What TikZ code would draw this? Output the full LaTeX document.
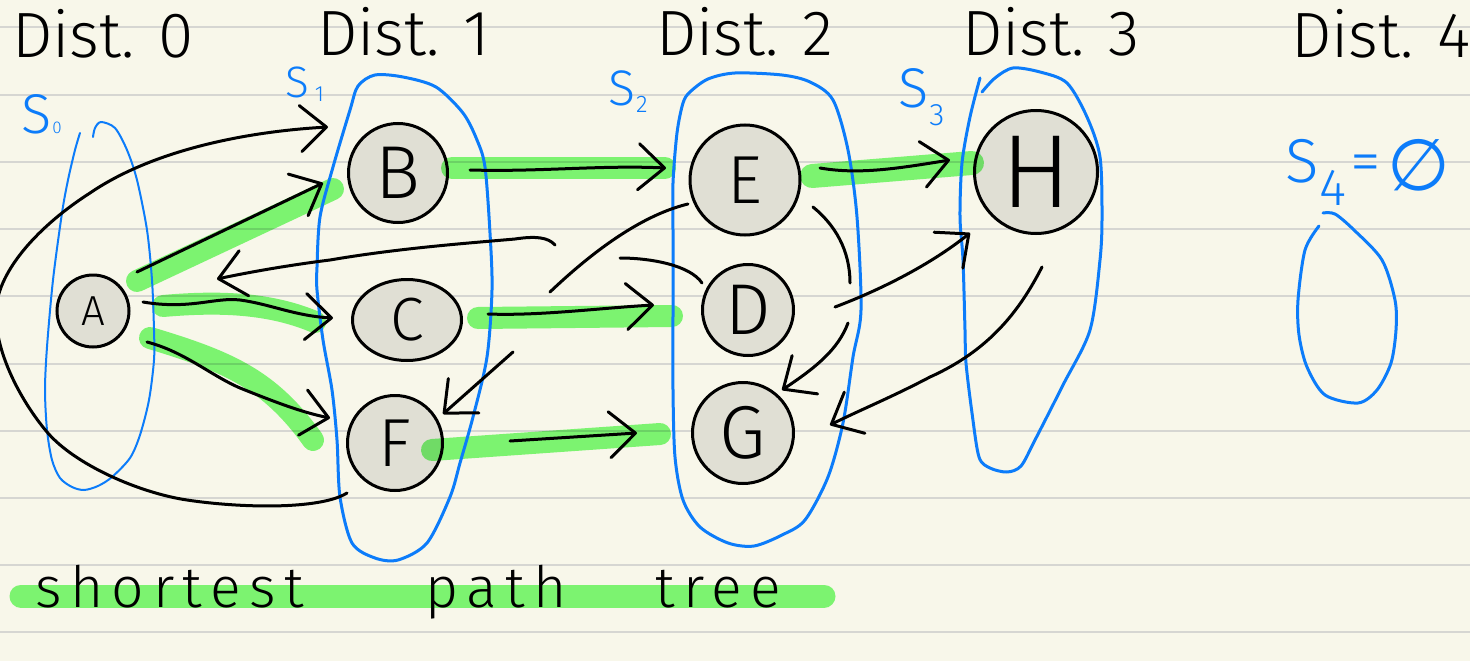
\documentclass[tikz,border=0pt]{standalone}
\usepackage{fontspec}
\setmainfont{Fira Sans}[UprightFont=* Light]
\newfontfamily\spacedfont{Fira Sans}[UprightFont=* Light, LetterSpace=15]
\newfontfamily\symbfont{DejaVu Sans}
\usetikzlibrary{arrows.meta,calc,shapes.geometric}
\definecolor{paper}{RGB}{248,247,234}
\definecolor{ruleclr}{RGB}{214,214,210}
\definecolor{nodefill}{RGB}{224,223,212}
\definecolor{bluepen}{RGB}{12,124,250}
\definecolor{hl}{RGB}{128,251,123}
\tikzset{
  vtx/.style={circle, draw=black, fill=nodefill, line width=3pt, inner sep=0pt},
  edge/.style={draw=black, line width=3pt, line cap=round, line join=round},
  arr/.style={edge, -{Straight Barb[length=26pt,width=46pt,round]}},
  hilite/.style={draw=hl, line width=22pt, line cap=round, line join=round},
  setloop/.style={draw=bluepen, line width=3pt, line cap=round, line join=round},
  ruleline/.style={draw=ruleclr, line width=2pt},
  lab/.style={anchor=base west, inner sep=0pt, font=\fontsize{64}{64}\selectfont},
  slab/.style={text=bluepen, inner sep=0pt, anchor=base west},
  wordlab/.style={anchor=base west, inner sep=0pt, font=\spacedfont\fontsize{57}{57}\selectfont},
}
\begin{document}
\begin{tikzpicture}[x=1pt,y=-1pt]
\useasboundingbox (0,0) rectangle (1470,661);
\fill[paper] (0,0) rectangle (1470,661);
\foreach \yy in {27,94.5,162,229,296,363.5,430.5,498,565,632}
  \draw[ruleline] (0,\yy) -- (1470,\yy);

% vertices
\node[vtx, minimum size=72pt, font=\fontsize{42}{42}\selectfont] (nA) at (93,311) {A};
\node[vtx, minimum size=99pt, font=\fontsize{75}{75}\selectfont] (nB) at (398,173) {B};
\node[vtx, ellipse, minimum width=109pt, minimum height=81pt, font=\fontsize{61}{61}\selectfont] (nC) at (407,320) {C};
\node[vtx, minimum size=95pt, font=\fontsize{68}{68}\selectfont] (nF) at (395,443) {F};
\node[vtx, minimum size=110pt, font=\fontsize{68}{68}\selectfont] (nE) at (745,180) {E};
\node[vtx, minimum size=91pt, font=\fontsize{72}{72}\selectfont] (nD) at (748,310) {D};
\node[vtx, minimum size=101pt, font=\fontsize{75}{75}\selectfont] (nG) at (743,433) {G};
\node[vtx, minimum size=123pt, font=\fontsize{104}{104}\selectfont] (nH) at (1036,172) {H};

% shortest path tree highlights
\begin{scope}[blend mode=multiply]
\draw[hilite] ($(nA)+(44,-30)$) -- ($(nB)+(-65,16)$);
\draw[hilite] ($(nA)+(70,-5)$) .. controls (220,301) and (270,303) .. ($(nC)+(-92,2)$);
\draw[hilite] ($(nA)+(57,27)$) .. controls (230,362) and (270,380) .. ($(nF)+(-82,-3)$);
\draw[hilite] ($(nB)+(54,-5)$) -- ($(nE)+(-80,-12)$);
\draw[hilite] ($(nC)+(71,-2)$) -- ($(nD)+(-76,6)$);
\draw[hilite] ($(nF)+(37,7)$) -- ($(nG)+(-83,1)$);
\draw[hilite, line width=24pt] ($(nE)+(67,-4)$) -- ($(nH)+(-64,-9)$);
\draw[hilite, line width=23pt] (21,596) -- (824,596);
\end{scope}

% level sets
\draw[setloop, line width=2pt] plot[smooth] coordinates {(80,133) (75,150) (68,180) (62,213) (53,280) (47,347) (45,390) (47,430) (52,460) (60,478) (72,487) (84,490) (98,486) (112,477) (130,458) (140,435) (149,400) (154,360) (154,330) (152,280) (147,230) (137,180) (127,150) (115,128) (101,122) (95,128) (93,137)};
\draw[setloop] plot[smooth cycle] coordinates {(358,86) (375,75) (403,77) (436,87) (463,113) (477,140) (485,167) (490,233) (492,290) (487,357) (473,417) (460,463) (450,497) (427,543) (398,560) (375,558) (352,543) (340,497) (337,440) (332,390) (323,340) (317,290) (317,267) (320,217) (333,167) (350,110)};
\draw[setloop] plot[smooth cycle] coordinates {(690,92) (708,79) (735,73) (782,75) (810,82) (833,100) (848,150) (857,217) (861,310) (853,357) (843,423) (828,477) (805,520) (782,535) (754,546) (728,543) (700,527) (683,500) (675,457) (673,390) (673,310) (673,233) (673,183) (677,133) (683,103)};
\draw[setloop] plot[smooth] coordinates {(982,92) (995,78) (1013,68) (1040,72) (1067,83) (1087,117) (1100,157) (1102,217) (1100,260) (1090,330) (1063,385) (1035,440) (1021,466) (1007,472) (990,468) (979,457) (972,413) (966,363) (965,330) (963,260) (960,217) (962,163) (970,117) (980,78)};
\draw[setloop] plot[smooth] coordinates {(1319,226) (1305,250) (1298,300) (1299,335) (1307,367) (1325,395) (1358,403) (1377,390) (1391,363) (1396,330) (1395,300) (1382,260) (1354,230) (1335,214) (1323,213)};

% edges
\draw[arr] ($(nA)+(44,-39)$) -- ($(nB)+(-75,10)$);
\draw[arr] ($(nA)+(50,-9)$) .. controls (190,310) and (215,297) .. (240,300) .. controls (270,304) and (295,316) .. ($(nC)+(-74,-2)$);
\draw[arr] ($(nA)+(54,31)$) .. controls (185,352) and (210,375) .. (240,388) .. controls (270,400) and (300,412) .. ($(nF)+(-65,-25)$);
\draw[arr] ($(nF)+(-48,50)$) .. controls (320,510) and (240,508) .. (187,500) .. controls (140,493) and (75,465) .. (47,432) .. controls (20,400) and (-6,350) .. (-4,310) .. controls (-2,270) and (40,225) .. (90,193) .. controls (150,152) and (240,132) .. ($(nB)+(-70,-46)$);
\draw[arr] ($(nB)+(72,-3)$) .. controls (540,172) and (600,165) .. ($(nE)+(-79,-12)$);
\draw[arr] ($(nC)+(81,-6)$) .. controls (540,316) and (600,308) .. ($(nD)+(-94,-5)$);
\draw[arr] ($(nF)+(115,-2)$) -- ($(nG)+(-106,0)$);
\draw[arr] ($(nE)+(75,-12)$) .. controls (860,175) and (900,168) .. ($(nH)+(-86,-12)$);
\coordinate (dA1) at (620,258);
\coordinate (dA2) at (555,245);
\draw[edge] ($(nD)+(-46,-27)$) .. controls (690,265) and (650,258) .. (dA1);
\draw[arr] (dA2) .. controls (548,237) and (535,236) .. (515,239) .. controls (470,243) and (400,248) .. (330,260) .. controls (290,265) and (250,272) .. ($(nA)+(124,-32)$);
\coordinate (eC) at (550,292);
\draw[edge] ($(nE)+(-57,24)$) .. controls (655,212) and (610,235) .. (eC);
\coordinate (fC) at (513,352);
\draw[arr] (fC) -- ($(nF)+(48,-29)$);
\coordinate (eG1) at (850,283);
\draw[edge] ($(nE)+(68,27)$) .. controls (835,225) and (850,250) .. (eG1);
\coordinate (eG2) at (848,323);
\draw[arr] (eG2) .. controls (838,350) and (815,368) .. ($(nG)+(39,-43)$);
\draw[arr] ($(nD)+(87,-3)$) .. controls (880,290) and (930,265) .. ($(nH)+(-66,61)$);
\draw[arr] ($(nH)+(6,95)$) .. controls (1020,310) and (990,350) .. (930,377) .. controls (890,398) and (860,410) .. ($(nG)+(87,-8)$);

% headings
\node[lab] (d0) at (12,58) {Dist. 0};
\node[lab] (d1) at (317,56) {Dist. 1};
\node[lab] (d2) at (656,56) {Dist. 2};
\node[lab] (d3) at (962,56) {Dist. 3};
\node[lab] (d4) at (1291,58) {Dist. 4};

% set labels
\node[slab, font=\fontsize{56}{56}\selectfont] (s0) at (21,133) {S\kern1pt\raisebox{0pt}{\fontsize{17}{17}\selectfont 0}};
\node[slab, font=\fontsize{44}{44}\selectfont] (s1) at (285,97) {S\kern6pt\raisebox{-5pt}{\fontsize{22}{22}\selectfont 1}};
\node[slab, font=\fontsize{50}{50}\selectfont] (s2) at (608,105) {S\kern1pt\raisebox{-7pt}{\fontsize{24}{24}\selectfont 2}};
\node[slab, font=\fontsize{56}{56}\selectfont] (s3) at (898,107) {S\kern1pt\raisebox{-18pt}{\fontsize{31}{31}\selectfont 3}};
\node[slab, font=\fontsize{62}{62}\selectfont] (s4) at (1285,182) {S\kern1pt\raisebox{-23pt}{\fontsize{52}{52}\selectfont 4}\kern4pt=\kern6pt\raisebox{-8pt}{\symbfont\fontsize{72}{72}\selectfont ∅}};

% caption
\node[wordlab] (w1) at (35,607) {shortest};
\node[wordlab] (w2) at (425,607) {path};
\node[wordlab] (w3) at (655,607) {tree};
\end{tikzpicture}
\end{document}
